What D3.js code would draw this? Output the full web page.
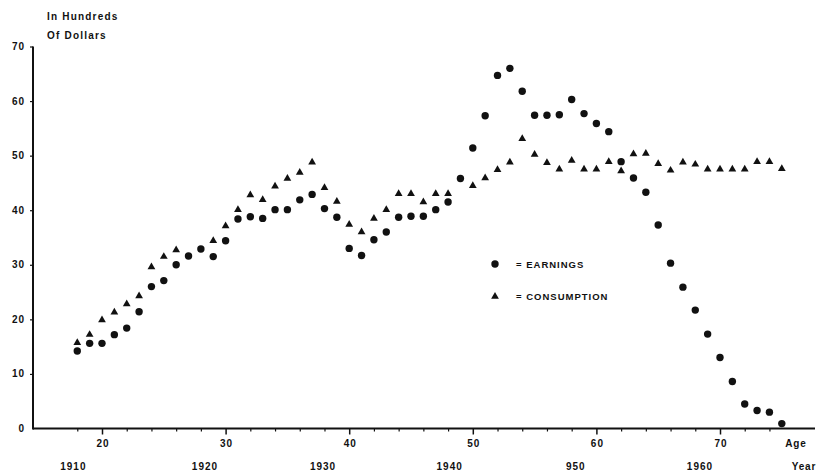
<!DOCTYPE html>
<html>
<head>
<meta charset="utf-8">
<script src="https://cdn.jsdelivr.net/npm/d3@7"></script>
<style>
  body { margin: 0; background: #fff; }
  svg text { font-family: "Liberation Sans", Arial, sans-serif; font-weight: bold; fill: #111; }
</style>
</head>
<body>
<div id="chart"></div>
<script>
// age of the person, one point a year
var ages = d3.range(18, 76)
// in hundreds of dollars, null where no mark is visible
var earnings = [14.2, 15.6, 15.6, 17.2, 18.4, 21.4, 26.0, 27.1, 30.0, 31.6,
    32.9, 31.5, 34.4, 38.4, 38.8, 38.5, 40.1, 40.1, 41.9, 42.9,
    40.3, 38.7, 33.0, 31.7, 34.6, 36.0, 38.7, 38.9, 38.9, 40.1,
    41.5, 45.8, 51.4, 57.3, 64.7, 66.0, 61.8, 57.4, 57.4, 57.5,
    60.3, 57.7, 55.9, 54.4, 48.9, 45.9, 43.3, 37.3, 30.3, 25.9,
    21.7, 17.3, 13.0, 8.6, 4.5, 3.3, 3.0, 0.9]
var consumption = [15.7, 17.2, 19.9, 21.3, 22.8, 24.3, 29.6, 31.5, 32.7, null,
    null, 34.4, 37.1, 40.1, 42.8, 41.9, 44.4, 45.8, 46.9, 48.8,
    44.1, 41.6, 37.4, 36.0, 38.5, 40.1, 43.0, 43.0, 41.5, 43.0,
    43.0, null, 44.5, 45.9, 47.4, 48.8, 53.1, 50.2, 48.7, 47.5,
    49.1, 47.5, 47.5, 48.9, 47.2, 50.3, 50.4, 48.5, 47.3, 48.8,
    48.4, 47.5, 47.5, 47.5, 47.5, 48.9, 48.9, 47.6]
var yTicks = [0, 10, 20, 30, 40, 50, 60, 70]
var ageTicks = [20, 30, 40, 50, 60, 70]
var yearLabels = ["1910", "1920", "1930", "1940", "950", "1960"]
var yearAt = [17.6, 28.25, 37.8, 48.05, 58.25, 68.3] // age under each year label

var width = 817, height = 471
var svg = d3.select("#chart").append("svg")
    .attr("width", width)
    .attr("height", height)

var x = d3.scaleLinear().domain([20, 70]).range([102, 720])
var y = d3.scaleLinear().domain([0, 70]).range([428.5, 46.5])

// major and minor ticks below the age axis
svg.append("g")
    .attr("transform", "translate(0," + y(0) + ")")
    .call(d3.axisBottom(x).tickValues(ageTicks).tickSize(6).tickSizeOuter(0).tickFormat(""))
    .call(g => g.select(".domain").remove())
    .selectAll("line").attr("stroke", "#111").attr("stroke-width", 1.5)

var minor = d3.range(18, 76, 2).filter(a => a % 10 != 0)
svg.append("g")
    .attr("transform", "translate(0," + y(0) + ")")
    .call(d3.axisBottom(x).tickValues(minor).tickSize(3).tickSizeOuter(0).tickFormat(""))
    .call(g => g.select(".domain").remove())
    .selectAll("line").attr("stroke", "#111").attr("stroke-width", 1.2)

svg.append("line")
    .attr("x1", 33).attr("x2", 815)
    .attr("y1", y(0)).attr("y2", y(0))
    .attr("stroke", "#111").attr("stroke-width", 2)

svg.append("g")
    .attr("transform", "translate(33,0)")
    .call(d3.axisLeft(y).tickValues(yTicks.filter(d => d > 0)).tickSize(3).tickSizeOuter(0).tickFormat(""))
    .call(g => g.select(".domain").remove())
    .selectAll("line").attr("stroke", "#111").attr("stroke-width", 1.2)

svg.append("line")
    .attr("x1", 33).attr("x2", 33)
    .attr("y1", y(70)).attr("y2", y(0) + 1)
    .attr("stroke", "#111").attr("stroke-width", 2)

// tick labels
svg.selectAll(".ylab")
    .data(yTicks)
    .enter().append("text")
    .attr("x", 25)
    .attr("y", d => y(d) + 3.5)
    .attr("text-anchor", "end")
    .style("font-size", "10px")
    .style("letter-spacing", "1px")
    .text(d => d)

svg.selectAll(".agelab")
    .data(ageTicks)
    .enter().append("text")
    .attr("x", d => x(d) + 1)
    .attr("y", 447)
    .attr("text-anchor", "middle")
    .style("font-size", "10px")
    .style("letter-spacing", "1px")
    .text(d => d)

svg.selectAll(".yearlab")
    .data(yearLabels)
    .enter().append("text")
    .attr("x", (d, i) => x(yearAt[i]) + 1)
    .attr("y", 470)
    .attr("text-anchor", "middle")
    .style("font-size", "10px")
    .style("letter-spacing", "1px")
    .text(d => d)

svg.append("text").attr("x", 796).attr("y", 447).attr("text-anchor", "middle")
    .style("font-size", "10px").style("letter-spacing", "0.8px").text("Age")
svg.append("text").attr("x", 804).attr("y", 470).attr("text-anchor", "middle")
    .style("font-size", "10px").style("letter-spacing", "0.8px").text("Year")

svg.append("text").attr("x", 47).attr("y", 20)
    .style("font-size", "10px").style("letter-spacing", "1.2px").text("In Hundreds")
svg.append("text").attr("x", 47).attr("y", 39)
    .style("font-size", "10px").style("letter-spacing", "1.2px").text("Of Dollars")

// data marks
var tri = d3.symbol().type(d3.symbolTriangle).size(26)
svg.append("g").selectAll("path")
    .data(ages.map((a, i) => [a, consumption[i]]).filter(d => d[1] != null))
    .enter().append("path")
    .attr("d", tri)
    .attr("transform", d => "translate(" + x(d[0]) + "," + y(d[1]) + ")")
    .attr("fill", "#111")

svg.append("g").selectAll("circle")
    .data(ages.map((a, i) => [a, earnings[i]]))
    .enter().append("circle")
    .attr("cx", d => x(d[0]))
    .attr("cy", d => y(d[1]))
    .attr("r", 3.7)
    .attr("fill", "#111")

// legend
svg.append("circle").attr("cx", 495).attr("cy", 264).attr("r", 3.7).attr("fill", "#111")
svg.append("text").attr("x", 516).attr("y", 268)
    .style("font-size", "9.5px").style("letter-spacing", "1px").text("= EARNINGS")
svg.append("path").attr("d", tri)
    .attr("transform", "translate(495,296.5)").attr("fill", "#111")
svg.append("text").attr("x", 516).attr("y", 300)
    .style("font-size", "9.5px").style("letter-spacing", "1px").text("= CONSUMPTION")
</script>
</body>
</html>
